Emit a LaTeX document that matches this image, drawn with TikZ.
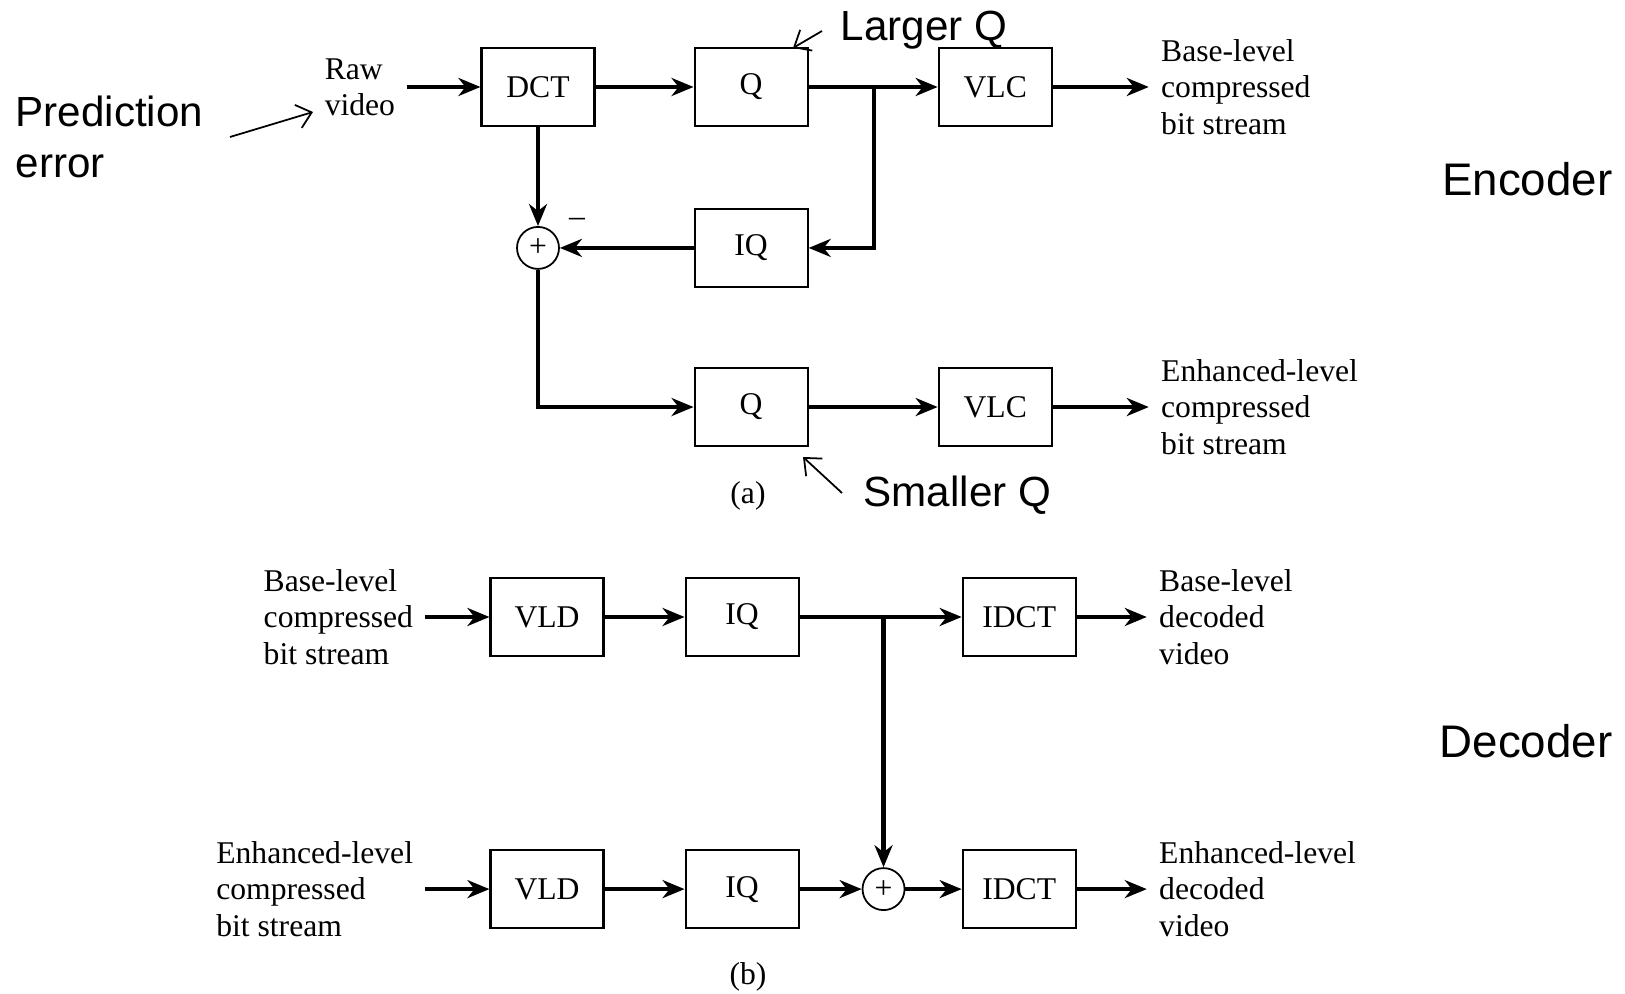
\documentclass[tikz,border=0pt]{standalone}
\usepackage{fontspec}
\setmainfont{Liberation Serif}
\newfontfamily\slidefont{Liberation Sans}
\usepackage{tikz}
\usetikzlibrary{arrows.meta, positioning}

\begin{document}
\begin{tikzpicture}[
    font=\fontsize{9}{10.3}\selectfont,
    block/.style={
        draw,
        line width=0.6pt,
        minimum width=1.13cm,
        minimum height=0.78cm,
        inner sep=2pt
    },
    adder/.style={
        draw,
        circle,
        line width=0.5pt,
        minimum size=0.42cm,
        inner sep=0pt,
        font=\fontsize{9}{9}\selectfont
    },
    signal/.style={
        align=left
    },
    line/.style={
        -{Stealth[length=2.2mm, width=1.8mm, inset=0.7mm]},
        line width=1.2pt
    },
    note/.style={
        -{Straight Barb[length=1.4mm, width=2.4mm]},
        line width=0.5pt
    },
    slide/.style={
        font=\slidefont\fontsize{12}{14.4}\selectfont,
        align=left,
        inner sep=0pt
    }
]
\useasboundingbox (0,0) rectangle (16.25,-9.94);

% (a) Encoder
\node[block] (dct) at (5.38,-0.87) {DCT};
\node[block, right=0.98cm of dct] (qbase) {Q};
\node[block, right=1.29cm of qbase] (vlcbase) {VLC};
\coordinate[right=0.65cm of qbase] (qsplit);
\node[adder, below=0.99cm of dct] (diff) {+};
\node[block] (iqenc) at (qbase |- diff) {IQ};
\node[block, below=0.79cm of iqenc] (qenh) {Q};
\node[block] (vlcenh) at (vlcbase |- qenh) {VLC};
\node[signal, left=0.73cm of dct] (raw) {Raw\\video};
\node[signal, right=0.96cm of vlcbase] (basestream) {Base-level\\compressed\\bit stream};
\node[signal, right=0.96cm of vlcenh] (enhstream) {Enhanced-level\\compressed\\bit stream};
\node (minus) at (5.77,-2.22) {\textendash};
\node (capa) at (7.48,-4.96) {(a)};

% (b) Decoder
\node[block] (vldbase) at (5.47,-6.17) {VLD};
\node[block, right=0.80cm of vldbase] (iqbase) {IQ};
\node[block, right=1.62cm of iqbase] (idctbase) {IDCT};
\node[block, below=1.92cm of vldbase] (vldenh) {VLD};
\node[block] (iqenh) at (iqbase |- vldenh) {IQ};
\node[block] (idctenh) at (idctbase |- vldenh) {IDCT};
\node[adder, right=0.62cm of iqenh] (sum) {+};
\coordinate (dsplit) at (sum |- iqbase);
\node[signal, left=0.64cm of vldbase] (basein) {Base-level\\compressed\\bit stream};
\node[signal, left=0.64cm of vldenh] (enhin) {Enhanced-level\\compressed\\bit stream};
\node[signal, right=0.70cm of idctbase] (baseout) {Base-level\\decoded\\video};
\node[signal, right=0.70cm of idctenh] (enhout) {Enhanced-level\\decoded\\video};
\node (capb) at (7.48,-9.77) {(b)};

% slide annotations
\node[slide, anchor=west] (predlbl) at (0.15,-1.37) {Prediction\\error};
\node[slide, anchor=west] (largerlbl) at (8.40,-0.30) {Larger Q};
\node[slide, anchor=west] (smallerlbl) at (8.63,-4.95) {Smaller Q};
\node[slide, font=\slidefont\fontsize{13}{15}\selectfont, anchor=east] (enclbl) at (16.13,-1.79) {Encoder};
\node[slide, font=\slidefont\fontsize{13}{15}\selectfont, anchor=east] (declbl) at (16.13,-7.41) {Decoder};
\coordinate (predfrom) at (2.30,-1.37);
\coordinate (predto) at (3.13,-1.12);
\coordinate (largerfrom) at (8.22,-0.31);
\coordinate (largerto) at (7.93,-0.48);
\coordinate (smallerfrom) at (8.42,-4.93);
\coordinate (smallerto) at (8.03,-4.57);

% Encoder arrows
\draw[line] (raw) -- (dct);
\draw[line] (dct) -- (qbase);
\draw[line] (qbase) -- (vlcbase);
\draw[line] (vlcbase) -- (basestream);
\draw[line] (qsplit) |- (iqenc);
\draw[line] (iqenc) -- (diff);
\draw[line] (dct) -- (diff);
\draw[line] (diff) |- (qenh);
\draw[line] (qenh) -- (vlcenh);
\draw[line] (vlcenh) -- (enhstream);

% Decoder arrows
\draw[line] (basein) -- (vldbase);
\draw[line] (vldbase) -- (iqbase);
\draw[line] (iqbase) -- (idctbase);
\draw[line] (idctbase) -- (baseout);
\draw[line] (dsplit) -- (sum);
\draw[line] (enhin) -- (vldenh);
\draw[line] (vldenh) -- (iqenh);
\draw[line] (iqenh) -- (sum);
\draw[line] (sum) -- (idctenh);
\draw[line] (idctenh) -- (enhout);

% annotation arrows
\draw[note] (predfrom) -- (predto);
\draw[note] (largerfrom) -- (largerto);
\draw[note] (smallerfrom) -- (smallerto);

\end{tikzpicture}
\end{document}
